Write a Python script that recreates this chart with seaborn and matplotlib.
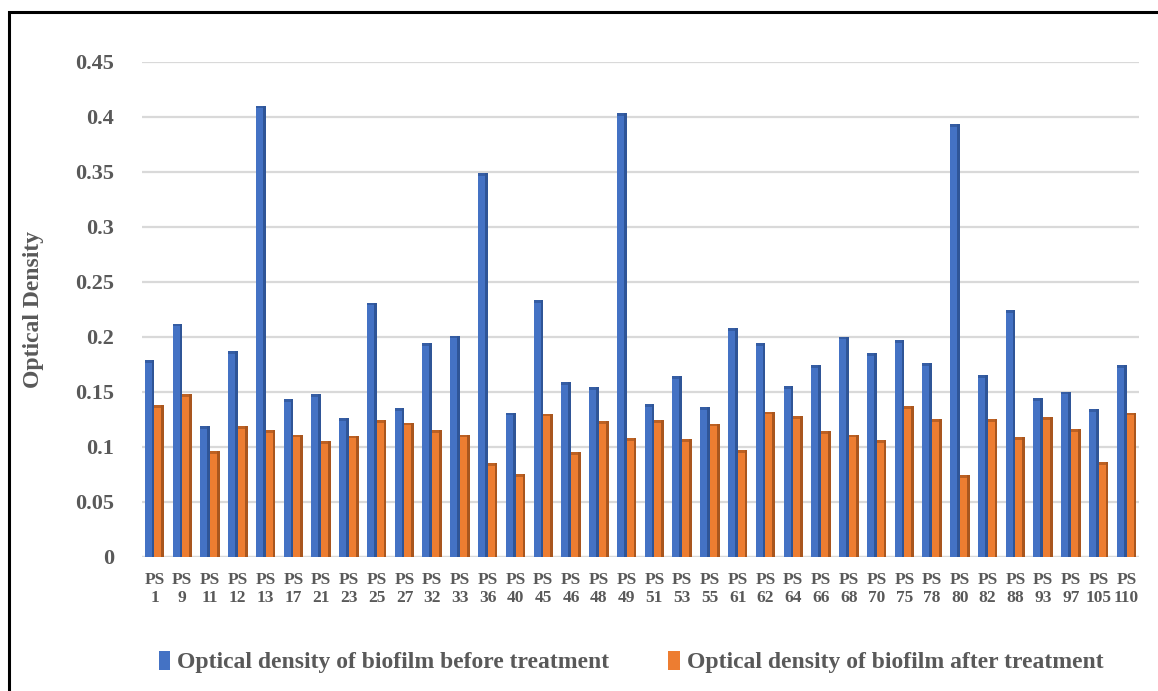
import matplotlib
matplotlib.use("Agg")
import matplotlib.pyplot as plt
import matplotlib.patches as mpatches
import seaborn as sns
import pandas as pd

isolates = ["1", "9", "11", "12", "13", "17", "21", "23", "25", "27", "32", "33",
            "36", "40", "45", "46", "48", "49", "51", "53", "55", "61", "62", "64",
            "66", "68", "70", "75", "78", "80", "82", "88", "93", "97", "105", "110"]

od_before = [0.179, 0.212, 0.119, 0.187, 0.410, 0.143, 0.148, 0.126, 0.231, 0.135,
             0.194, 0.201, 0.349, 0.131, 0.233, 0.159, 0.154, 0.403, 0.139, 0.164,
             0.136, 0.208, 0.194, 0.155, 0.174, 0.200, 0.185, 0.197, 0.176, 0.393,
             0.165, 0.224, 0.144, 0.150, 0.134, 0.174]

od_after = [0.138, 0.148, 0.096, 0.119, 0.115, 0.111, 0.105, 0.110, 0.124, 0.122,
            0.115, 0.111, 0.085, 0.075, 0.130, 0.095, 0.123, 0.108, 0.124, 0.107,
            0.121, 0.097, 0.132, 0.128, 0.114, 0.111, 0.106, 0.137, 0.125, 0.074,
            0.125, 0.109, 0.127, 0.116, 0.086, 0.131]

series_names = ["Optical density of biofilm before treatment",
                "Optical density of biofilm after treatment"]
series_colors = ["#4472C4", "#ED7D31"]
side_colors = ["#2F5597", "#A9561E"]

labels = ["PS\n" + s for s in isolates]
df = pd.DataFrame({
    "isolate": labels * 2,
    "od": od_before + od_after,
    "series": [series_names[0]] * len(labels) + [series_names[1]] * len(labels),
})

sns.set_theme(style="white")
serif = ["Liberation Serif", "DejaVu Serif"]
plt.rcParams["font.family"] = serif
text_gray = "#595959"

fig = plt.figure(figsize=(11.58, 6.91), dpi=100)
ax = fig.add_axes([142 / 1158, 1 - 556.7 / 691, (1139 - 142) / 1158, (556.7 - 61.7) / 691])

sns.barplot(data=df, x="isolate", y="od", hue="series", order=labels,
            hue_order=series_names, palette=series_colors, width=0.7, gap=0,
            dodge=True, saturation=1, legend=False, ax=ax, zorder=3,
            linewidth=0)

# darker right-hand face on each bar for a shaded, block-like look
for container, side in zip(ax.containers, side_colors):
    for p in container.patches:
        x0, w, h = p.get_x(), p.get_width(), p.get_height()
        ax.add_patch(mpatches.Rectangle((x0 + w * 0.72, 0), w * 0.28, h,
                                        facecolor=side, linewidth=0, zorder=3.5))
        ax.add_patch(mpatches.Rectangle((x0, h - 0.0025), w, 0.0025,
                                        facecolor=side, linewidth=0, zorder=3.6,
                                        alpha=0.7))

ax.set_xlim(-0.45, len(labels) - 0.55)
ax.set_ylim(0, 0.45)
ax.set_yticks([0, 0.05, 0.1, 0.15, 0.2, 0.25, 0.3, 0.35, 0.4, 0.45])
ax.set_yticklabels(["0", "0.05", "0.1", "0.15", "0.2", "0.25", "0.3", "0.35", "0.4", "0.45"])
ax.yaxis.grid(True, color="#D9D9D9", linewidth=1.6, zorder=0)
ax.xaxis.grid(False)
for s in ax.spines.values():
    s.set_visible(False)
ax.axhline(0, color="#D9D9D9", linewidth=1.6, zorder=1)

ax.tick_params(axis="y", length=0, pad=20, labelsize=16, labelcolor=text_gray)
ax.tick_params(axis="x", length=0, pad=11, labelsize=12.5, labelcolor=text_gray)
for t in ax.get_yticklabels() + ax.get_xticklabels():
    t.set_fontweight("bold")
    t.set_linespacing(1.15)

ax.set_xlabel("")
ax.set_ylabel("Optical Density", fontsize=17, fontweight="bold", color=text_gray)
ax.yaxis.set_label_coords(-0.0985, 0.5)

handles = [mpatches.Patch(facecolor=c, edgecolor="none") for c in series_colors]
leg = fig.legend(handles, series_names, loc="center", bbox_to_anchor=(0.545, 0.042),
                 ncol=2, frameon=False, handlelength=0.5, handleheight=0.85,
                 handletextpad=0.3, columnspacing=2.48,
                 prop={"family": serif, "weight": "bold", "size": 17})
for t in leg.get_texts():
    t.set_color(text_gray)

# outer frame around the chart area
fig.add_artist(mpatches.Rectangle((9 / 1158, -0.05), 1.2, 1 - 12 / 691 + 0.05,
                                  transform=fig.transFigure, fill=False,
                                  edgecolor="black", linewidth=2.2, clip_on=False))

fig.savefig("out.png", dpi=100)
